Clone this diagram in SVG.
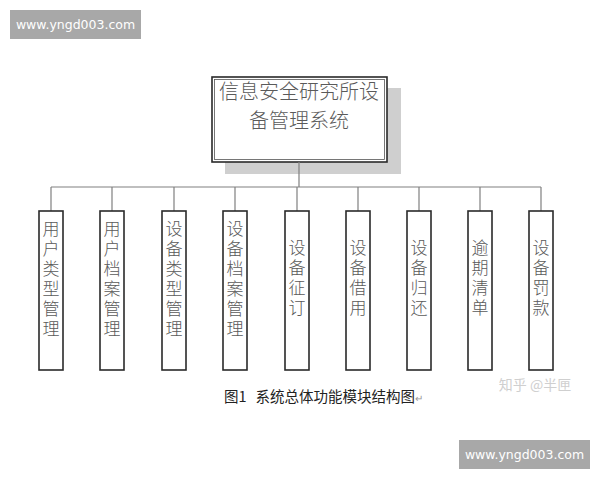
<svg xmlns="http://www.w3.org/2000/svg" width="600" height="480" viewBox="0 0 600 480">
<style>
.node{fill:#fff;stroke:#2a2a2a;stroke-width:1.6}
.lbl{font-family:"Noto Sans CJK SC","Noto Sans CJK JP",sans-serif;font-size:20px;fill:#5a5a5a;text-anchor:middle;font-weight:300}
.v{font-family:"Noto Sans CJK SC","Noto Sans CJK JP",sans-serif;font-size:17px;fill:#5a5a5a;font-weight:300;writing-mode:vertical-rl;letter-spacing:3px}
.con{stroke:#808080;stroke-width:1.2;fill:none}
.wm{fill:#a8a8a8}
.wmt{font-family:"DejaVu Sans","Noto Sans",sans-serif;font-size:12.5px;fill:#fff;text-anchor:middle}
</style>
<rect width="600" height="480" fill="#fff"/>
<g id="watermark-top"><rect class="wm" x="10" y="10" width="131" height="29"/><text class="wmt" x="75.5" y="29">www.yngd003.com</text></g>
<g id="root">
<rect x="225" y="88" width="176" height="86" fill="#cfcfcf"/>
<rect x="212" y="77" width="175" height="85" fill="#fff" stroke="#2a2a2a" stroke-width="1.6"/>
<rect x="214.5" y="79.5" width="170" height="80" fill="none" stroke="#555" stroke-width="0.8"/>
<text class="lbl" x="299" y="99">信息安全研究所设</text>
<text class="lbl" x="299" y="128">备管理系统</text>
</g>
<g id="connectors">
<path class="con" d="M299 162V187M51 187H541M51 187V211M112 187V211M174 187V211M235 187V211M297 187V211M358 187V211M419 187V211M480 187V211M541 187V211"/>
</g>
<g id="n1"><rect class="node" x="39" y="211" width="24" height="159"/><text class="v" x="51" y="220">用户类型管理</text></g>
<g id="n2"><rect class="node" x="100" y="211" width="24" height="159"/><text class="v" x="112" y="220">用户档案管理</text></g>
<g id="n3"><rect class="node" x="162" y="211" width="24" height="159"/><text class="v" x="174" y="220">设备类型管理</text></g>
<g id="n4"><rect class="node" x="223" y="211" width="24" height="159"/><text class="v" x="235" y="220">设备档案管理</text></g>
<g id="n5"><rect class="node" x="285" y="211" width="24" height="159"/><text class="v" x="297" y="239">设备征订</text></g>
<g id="n6"><rect class="node" x="346" y="211" width="24" height="159"/><text class="v" x="358" y="239">设备借用</text></g>
<g id="n7"><rect class="node" x="407" y="211" width="24" height="159"/><text class="v" x="419" y="239">设备归还</text></g>
<g id="n8"><rect class="node" x="468" y="211" width="24" height="159"/><text class="v" x="480" y="239">逾期清单</text></g>
<g id="n9"><rect class="node" x="529" y="211" width="24" height="159"/><text class="v" x="541" y="239">设备罚款</text></g>
<g id="caption"><text x="224" y="402" style="font-family:'Noto Sans CJK SC',sans-serif;font-size:14.5px;fill:#222">图1<tspan dx="9">系统总体功能模块结构图</tspan><tspan style="fill:#999;font-size:10px">↵</tspan></text></g>
<g id="zhihu"><text x="535" y="390" style="font-family:'Noto Sans CJK SC',sans-serif;font-size:14px;fill:#cfcfcf;text-anchor:middle">知乎 @半匣</text></g>
<g id="watermark-bottom"><rect class="wm" x="459" y="440" width="131" height="29"/><text class="wmt" x="524.5" y="459">www.yngd003.com</text></g>
</svg>
